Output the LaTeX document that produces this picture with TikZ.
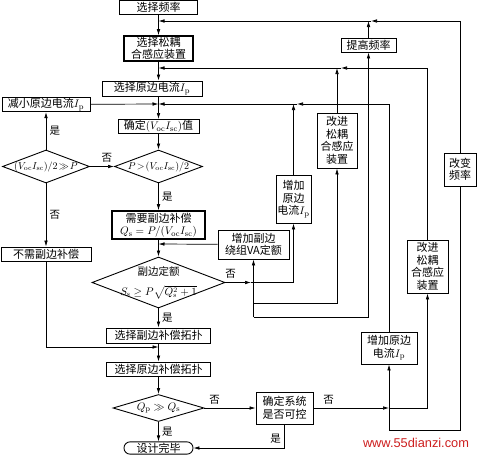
\documentclass[tikz,border=0pt]{standalone}
\usepackage{amsmath}
\usepackage[no-math]{fontspec}
\setmainfont{Noto Sans CJK SC}
\newfontfamily\wmfont{Liberation Sans}
\usetikzlibrary{arrows.meta, shapes.geometric}
\definecolor{wmred}{RGB}{205,30,30}

\begin{document}
\begin{tikzpicture}[x=1pt,y=-1pt,line width=0.7pt,>={Latex[length=6pt,width=3.6pt]},
    font=\fontsize{11}{12.5}\selectfont,
    box/.style={draw,line width=0.9pt,inner sep=1pt,align=center},
    boldbox/.style={box,line width=1.6pt},
    choice/.style={draw,diamond,line width=0.9pt,inner sep=0pt,font=\fontsize{10}{12}\selectfont},
    lbl/.style={font=\fontsize{10.5}{12}\selectfont}]
    \useasboundingbox (0,0) rectangle (477,455);

    \node[box,minimum width=78pt,minimum height=14pt] (selfreq) at (158.5,7) {选择频率};
    \node[boldbox,minimum width=69pt,minimum height=25pt] (selcoil) at (158.5,48.5) {选择松耦\\合感应装置};
    \node[box,minimum width=100pt,minimum height=15pt] (selIp) at (152,88.5) {选择原边电流$I_\mathrm{p}$};
    \node[box,minimum width=88pt,minimum height=14pt] (decIp) at (46,104.5) {减小原边电流$I_\mathrm{p}$};
    \node[box,minimum width=81pt,minimum height=14pt] (voc) at (158.5,126.5) {确定$(V_\mathrm{oc}I_\mathrm{sc})$值};
    \node[choice,minimum width=87pt,minimum height=33pt] (d1) at (46,166.5) {\makebox[0pt]{$(V_\mathrm{oc}I_\mathrm{sc})/2\!\gg\! P$}};
    \node[choice,minimum width=88pt,minimum height=33pt] (d2) at (158.5,166.5) {\makebox[0pt]{$P\!>\!(V_\mathrm{oc}I_\mathrm{sc})/2$}};
    \node[boldbox,minimum width=93pt,minimum height=28pt] (need) at (158.5,225) {需要副边补偿\\$Q_\mathrm{s}=P/(V_\mathrm{oc}I_\mathrm{sc})$};
    \node[box,minimum width=90pt,minimum height=14pt] (noneed) at (46,254) {不需副边补偿};
    \node[choice,minimum width=133pt,minimum height=51pt] (d3) at (158.5,282.5) {};
    \node[font=\fontsize{10.5}{12}\selectfont,inner sep=0pt] (d3top) at (158.5,271) {副边定额};
    \node[font=\fontsize{10.5}{12}\selectfont,inner sep=0pt] (d3bot) at (158.5,292) {$S_\mathrm{s}\geq P\sqrt{Q_\mathrm{s}^2+1}$};
    \node[box,minimum width=71pt,minimum height=29pt] (incVA) at (253.5,244.5) {增加副边\\绕组VA定额};
    \node[box,minimum width=35pt,minimum height=48pt] (incIpA) at (293.5,199) {增加\\原边\\电流$I_\mathrm{p}$};
    \node[box,minimum width=40pt,minimum height=55pt] (coilA) at (337,140.5) {改进\\松耦\\合感应\\装置};
    \node[box,minimum width=55pt,minimum height=14pt] (raise) at (368.5,45) {提高频率};
    \node[box,minimum width=32pt,minimum height=33pt] (chfreq) at (460,169.5) {改变\\频率};
    \node[box,minimum width=41pt,minimum height=53pt] (coilB) at (427.5,266.5) {改进\\松耦\\合感应\\装置};
    \node[box,minimum width=56pt,minimum height=32pt] (incIpB) at (389,348) {增加原边\\电流$I_\mathrm{p}$};
    \node[box,minimum width=104pt,minimum height=15pt] (selsec) at (158.5,335.5) {选择副边补偿拓扑};
    \node[box,minimum width=104pt,minimum height=14pt] (selpri) at (158.5,369) {选择原边补偿拓扑};
    \node[choice,minimum width=91pt,minimum height=27pt,font=\fontsize{11}{12}\selectfont] (d4) at (158.5,408) {\makebox[0pt]{$Q_\mathrm{p}\gg Q_\mathrm{s}$}};
    \node[box,minimum width=57pt,minimum height=32pt] (ctrl) at (284.5,408) {确定系统\\是否可控};
    \node[box,rounded corners=6pt,minimum width=69pt,minimum height=12pt] (done) at (158.5,448) {设计完毕};
    \node[text=wmred,font=\wmfont\fontsize{12.8}{14}\selectfont] (wm) at (416,443) {www.55dianzi.com};

    \coordinate (c21) at (158.5,21);
    \coordinate (t21) at (371,21);
    \coordinate (c68) at (158.5,68);
    \coordinate (t68) at (341,68);
    \coordinate (c104) at (158.5,104);
    \coordinate (t104) at (297,104);
    \coordinate (c244) at (158.5,244);
    \coordinate (t283) at (251,282.5);
    \coordinate (b303) at (253.5,303);
    \coordinate (b317) at (253.5,317);
    \coordinate (c347) at (158.5,347);
    \coordinate (t408) at (389,408);
    \coordinate (b430) at (389,430);

    \draw[->] (selfreq) -- (selcoil);
    \draw[->] (selcoil) -- (selcoil |- selIp.north);
    \draw[->] (voc |- selIp.south) -- (voc);
    \draw[->] (chfreq) |- (t21);
    \draw[->] (t21) -- (c21);
    \draw[->] (raise) -- (raise |- c21);
    \draw[->] (coilB) |- (t68);
    \draw[->] (t68) -- (c68);
    \draw[->] (coilA) -- (coilA |- c68);
    \draw[->] (incIpB) |- (t104);
    \draw[->] (t104) -- (c104);
    \draw[->] (incIpA) -- (incIpA |- c104);
    \draw[->] (decIp) -- (c104);
    \draw[->] (voc) -- (d2);
    \draw[->] (d1) -- (decIp) node[lbl,midway,right] {是};
    \draw[->] (d1) -- (d2) node[lbl,pos=0.7,above] {否};
    \draw[->] (d1) -- (noneed) node[lbl,midway,right] {否};
    \draw[->] (d2) -- (need) node[lbl,midway,right] {是};
    \draw[->] (need) -- (d3);
    \draw[->] (incVA) -- (c244);
    \draw[->] (d3) -- (selsec) node[lbl,midway,right] {是};
    \draw[->] (d3.east) -- (t283) node[lbl,pos=0.2,above] {否};
    \draw[->] (t283) -| (incIpA);
    \draw[->] (b317) -- (incVA);
    \draw[->] (b303) -| (coilA);
    \draw[->] (b317) -| (raise);
    \draw[->] (noneed) |- (c347);
    \draw[->] (selsec) -- (selpri);
    \draw[->] (selpri) -- (d4);
    \draw[->] (d4) -- (done) node[lbl,midway,right] {是};
    \draw[->] (d4) -- (ctrl) node[lbl,pos=0.2,above] {否};
    \draw[->] (ctrl) -- (t408) node[lbl,pos=0.2,above] {否};
    \draw[->] (t408) -| (coilB);
    \draw[->] (t408) -- (incIpB);
    \draw (t408) -- (b430) -| (chfreq);
    \draw[->] (ctrl) |- (done) node[lbl,pos=0.3,left] {是};
\end{tikzpicture}
\end{document}
